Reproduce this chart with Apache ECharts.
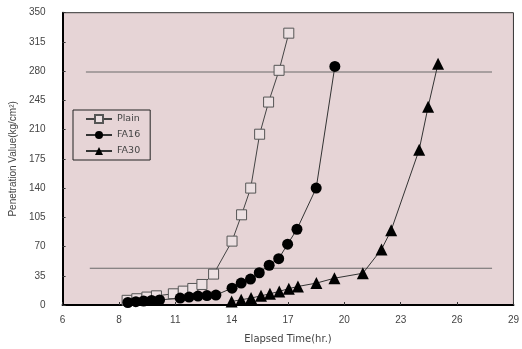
<!DOCTYPE html>
<html>
<head>
<meta charset="utf-8">
<script src="https://cdn.jsdelivr.net/npm/echarts@6/dist/echarts.min.js"></script>
<style>html,body{margin:0;padding:0;background:#fff;}#c{width:522px;height:349px;}</style>
</head>
<body>
<div id="c"></div>
<script>
// ---- data ----
const xMin = 5.6, xMax = 28.8;
const xTickLabels = ["6","8","11","14","17","20","23","26","29"];
const yMin = 0, yMax = 350, yStep = 35;

const plainT = [8.92,9.42,9.94,10.43,11.3,11.81,12.3,12.77,13.37,14.32,14.81,15.28,15.74,16.2,16.74,17.24];
const plainV = [5.6,7.5,9.5,11,13.4,16.6,19.8,24.6,37,76.5,108,140,204.5,243,281,325.5];

const fa16T = [8.96,9.37,9.77,10.18,10.59,11.65,12.11,12.57,13.03,13.49,14.32,14.79,15.27,15.72,16.23,16.72,17.18,17.66,18.65,19.61];
const fa16V = [3,4,4.8,5.4,6,8.3,9.5,10.7,11.3,11.9,20.2,26.2,31,38.6,47.6,55.5,72.8,90.7,140,285.7];

const fa30T = [14.3,14.79,15.3,15.81,16.27,16.75,17.24,17.71,18.66,19.59,21.05,22.01,22.51,23.95,24.41,24.92];
const fa30V = [4.2,6.3,8.3,11,13.4,16.3,19.6,22.2,26.2,32.1,38,66.6,89.5,185.9,237.4,289];

const upperT = [6.8, 27.7], upperV = [279, 279];
const lowerT = [7.0, 27.7], lowerV = [44, 44];

// ---- build ----
const zip = (a, b) => a.map((v, i) => [v, b[i]]);
const xStep = (xMax - xMin) / (xTickLabels.length - 1);
const xPos = xTickLabels.map((_, i) => Math.min(xMax, Math.round((xMin + i * xStep) * 1e6) / 1e6));

const chart = echarts.init(document.getElementById('c'), null, {renderer: 'canvas'});
const tickFont = {fontFamily: 'Liberation Sans', fontSize: 10, color: '#444'};

chart.setOption({
  animation: false,
  backgroundColor: '#fff',
  grid: {left: 62, right: 4, top: 12.7, bottom: 42, show: true, backgroundColor: '#e6d4d6', borderColor: '#333', borderWidth: 1},
  legend: {
    data: ['Plain', 'FA16', 'FA30'],
    orient: 'vertical', left: 73, top: 110,
    padding: [4, 10, 4, 12],
    itemWidth: 26, itemHeight: 10, itemGap: 6,
    borderColor: '#222', borderWidth: 1,
    textStyle: {fontFamily: 'DejaVu Sans', fontSize: 9.5, color: '#444'}
  },
  xAxis: {
    type: 'value', min: xMin, max: xMax,
    name: 'Elapsed Time(hr.)', nameLocation: 'middle', nameGap: 29,
    nameTextStyle: {fontFamily: 'DejaVu Sans', fontSize: 10, color: '#444'},
    axisLine: {show: true, lineStyle: {color: '#000', width: 2}},
    axisTick: {show: true, inside: true, length: 3, customValues: xPos, lineStyle: {color: '#333'}},
    axisLabel: {show: true, margin: 10, customValues: xPos, showMaxLabel: true, showMinLabel: true, hideOverlap: false, ...tickFont,
      formatter: v => xTickLabels[Math.round((v - xMin) / xStep)]},
    splitLine: {show: false}
  },
  yAxis: {
    type: 'value', min: yMin, max: yMax, interval: yStep,
    name: 'Penetration Value(kg/cm²)', nameLocation: 'middle', nameGap: 44,
    nameTextStyle: {fontFamily: 'Liberation Sans', fontSize: 10, color: '#444'},
    axisLine: {show: true, lineStyle: {color: '#000', width: 2}},
    axisTick: {show: true, inside: true, length: 3, lineStyle: {color: '#333'}},
    axisLabel: {margin: 17, ...tickFont},
    splitLine: {show: false}
  },
  series: [
    {name: 'upper', type: 'line', data: zip(upperT, upperV), symbol: 'none', silent: true,
     lineStyle: {color: '#6a6a6a', width: 1.2}, z: 1},
    {name: 'lower', type: 'line', data: zip(lowerT, lowerV), symbol: 'none', silent: true,
     lineStyle: {color: '#6a6a6a', width: 1.2}, z: 1},
    {name: 'Plain', type: 'line', data: zip(plainT, plainV), symbol: 'rect', symbolSize: 10,
     lineStyle: {color: '#444', width: 1},
     itemStyle: {color: '#ece0e2', borderColor: '#555', borderWidth: 1}, z: 2},
    {name: 'FA16', type: 'line', data: zip(fa16T, fa16V), symbol: 'circle', symbolSize: 11,
     lineStyle: {color: '#333', width: 1},
     itemStyle: {color: '#000'}, z: 3},
    {name: 'FA30', type: 'line', data: zip(fa30T, fa30V), symbol: 'triangle', symbolSize: 12,
     lineStyle: {color: '#333', width: 1},
     itemStyle: {color: '#000'}, z: 4}
  ]
});
</script>
</body>
</html>
